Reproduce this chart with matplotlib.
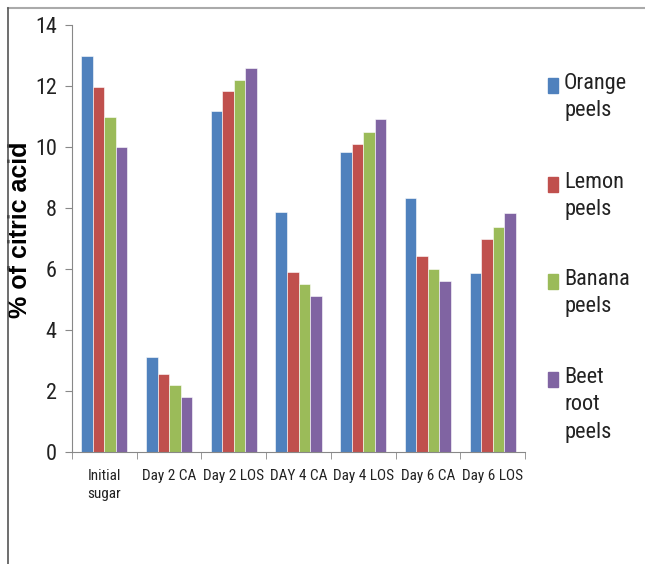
import numpy as np
import matplotlib
matplotlib.use('Agg')
import matplotlib.pyplot as plt
from matplotlib.patches import Rectangle
from matplotlib.lines import Line2D

plt.rcParams['font.family'] = ['Roboto Condensed', 'Archivo Narrow', 'DejaVu Sans']

categories = ['Initial\nsugar', 'Day 2 CA', 'Day 2 LOS', 'DAY 4 CA', 'Day 4 LOS', 'Day 6 CA', 'Day 6 LOS']
series_names = ['Orange\npeels', 'Lemon\npeels', 'Banana\npeels', 'Beet\nroot\npeels']
orange = [13.0, 3.1, 11.18, 7.88, 9.83, 8.32, 5.88]
lemon = [11.97, 2.57, 11.83, 5.89, 10.1, 6.42, 7.0]
banana = [11.0, 2.2, 12.2, 5.5, 10.48, 5.99, 7.39]
beet = [10.0, 1.8, 12.58, 5.12, 10.92, 5.6, 7.83]
colors = ['#4f81bd', '#c0504d', '#9bbb59', '#8064a2']

W, H = 645, 564
fig = plt.figure(figsize=(W / 100, H / 100), dpi=100)
ax = fig.add_axes([72 / W, 1 - 452 / H, 453 / W, 427 / H])

x = np.arange(len(categories))
w = 0.178
for i, vals in enumerate([orange, lemon, banana, beet]):
    ax.bar(x + (i - 1.5) * w, vals, width=w, color=colors[i], edgecolor='white', linewidth=0.4)

ax.set_xlim(-0.5, len(categories) - 0.5)
ax.set_ylim(0, 14)
ax.set_yticks(range(0, 15, 2))
ax.tick_params(axis='y', labelsize=16, length=5, color='#888888', pad=6, labelcolor='#222222')
ax.set_xticks(x)
ax.set_xticklabels(categories, fontsize=11, va='top', linespacing=1.4)
ax.tick_params(axis='x', length=0, pad=12, labelcolor='#222222')
# category boundary ticks
ax.set_xticks(np.arange(-0.5, len(categories), 1), minor=True)
ax.tick_params(axis='x', which='minor', length=5, color='#888888')

for s in ['top', 'right']:
    ax.spines[s].set_visible(False)
for s in ['left', 'bottom']:
    ax.spines[s].set_color('#888888')

ax.set_ylabel('% of citric acid', fontsize=18, fontweight='bold', family='Liberation Sans')
ax.yaxis.set_label_coords(-0.088, 0.52)

# legend drawn by hand so the marker sits on the first line
leg_top = [78, 177, 274, 372]
for i, name in enumerate(series_names):
    top = 1 - leg_top[i] / H
    fig.patches.append(Rectangle((548 / W, top - 15 / H), 10 / W, 15 / H,
                                 transform=fig.transFigure, color=colors[i]))
    fig.text(564 / W, top + 5 / H, name, fontsize=16, va='top', ha='left',
             linespacing=1.4, color='#222222')

# outer frame bits
fig.add_artist(Line2D([8 / W, 1], [1 - 8 / H] * 2, color='#aaaaaa', lw=1.5, transform=fig.transFigure))
fig.add_artist(Line2D([8 / W] * 2, [1 - 8 / H, 0], color='#555555', lw=1.2, transform=fig.transFigure))

fig.savefig('out.png', dpi=100)
